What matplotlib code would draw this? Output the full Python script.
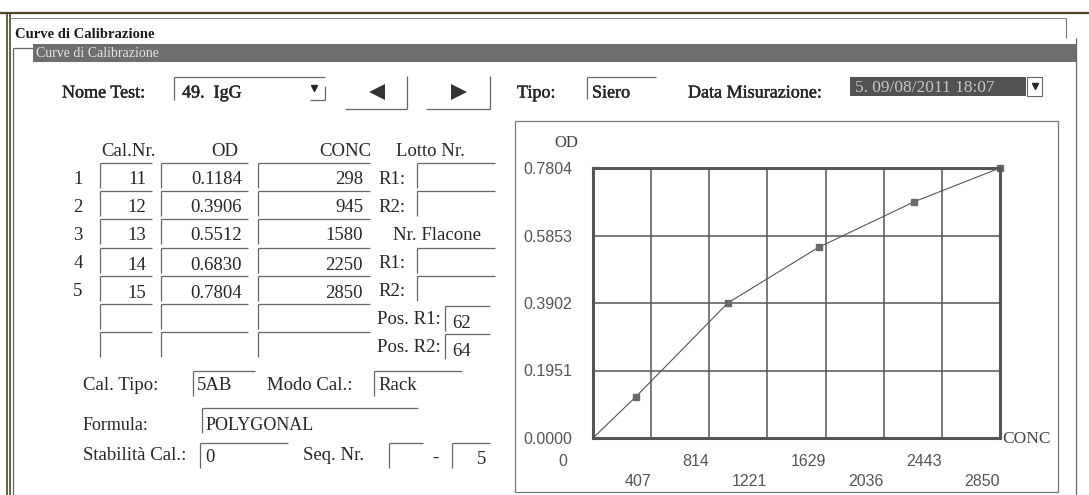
import numpy as np
import matplotlib.pyplot as plt
import matplotlib.patheffects as pe
from matplotlib.patches import Rectangle
from matplotlib.transforms import offset_copy

# calibration points (row, Cal.Nr., OD, CONC)
cal_rows = ['1', '2', '3', '4', '5']
cal_nr = [11, 12, 13, 14, 15]
od = [0.1184, 0.3906, 0.5512, 0.6830, 0.7804]
conc = [298, 945, 1580, 2250, 2850]

# ticks of the curve panel
conc_ticks = [0, 407, 814, 1221, 1629, 2036, 2443, 2850]
conc_tick_labels = ['0', '407', '814', '1221', '1629', '2036', '2443', '2850']
od_ticks = [0.0, 0.1951, 0.3902, 0.5853, 0.7804]
od_tick_labels = ['0.0000', '0.1951', '0.3902', '0.5853', '0.7804']

# form fields
test_name = '49.  IgG'
tipo = 'Siero'
data_mis = '5. 09/08/2011 18:07'
pos_r1, pos_r2 = '62', '64'
cal_tipo, modo_cal = '5AB', 'Rack'
formula = 'POLYGONAL'
stabilita, seq_nr = '0', '5'

W, H = 1089, 495
fig = plt.figure(figsize=(W / 100, H / 100), dpi=100)
fig.patch.set_facecolor('white')

# background axes in pixel units for the dialog
bg = fig.add_axes([0, 0, 1, 1])
bg.set_xlim(0, W)
bg.set_ylim(H, 0)
bg.axis('off')

ink = '#262626'
edge = '#666666'
serif = 'Liberation Serif'
sans = 'Liberation Sans'
# top row captions are a touch heavier
heavy = [pe.withStroke(linewidth=0.3, foreground='#1a1a1a')]


def hline(y, x0, x1, c=edge, lw=0.9):
    bg.plot([x0, x1], [y, y], color=c, lw=lw, solid_capstyle='butt')


def vline(x, y0, y1, c=edge, lw=0.9):
    bg.plot([x, x], [y0, y1], color=c, lw=lw, solid_capstyle='butt')


def label(x, y, s, size=13.5, ha='left', **kw):
    # y is the visual middle of the capitals
    kw.setdefault('color', ink)
    bg.text(x, y + 3, s, fontsize=size, family=serif, ha=ha, va='center', **kw)


def field(x0, x1, y):
    # sunken edit box: only top and left edges show
    hline(y - 14, x0, x1)
    vline(x0, y - 14, y + 11)


# window frame
hline(13, 0, W, c='#4f4526', lw=1.6)
vline(7, 13, H, c='#4f4526', lw=1.2)
vline(10, 13, H, c='#4f4526', lw=1.2)
hline(18, 10, 1066, c='#888888', lw=0.7)
vline(1066, 18, 38, c='#777777', lw=0.8)
bg.text(15, 34, 'Curve di Calibrazione', fontsize=10.5, family=serif,
        weight='bold', color='#1a1a1a', va='center')

# group box with dark caption band
hline(48, 13, 33)
vline(13, 48, H)
vline(1076, 38, H)
bg.add_patch(Rectangle((33, 44), 1076 - 33, 18, color='#6e6e6e', lw=0))
bg.text(36, 53.5, 'Curve di Calibrazione', fontsize=10, family=serif,
        color='#e6e6e6', va='center')

# top row: test selector, arrows, type and date
label(62, 90, 'Nome Test:', size=13, path_effects=heavy)
hline(77, 174, 325)
vline(174, 77, 100)
vline(325, 86, 100)
hline(100, 310, 325)
label(182, 90, test_name, size=13, path_effects=heavy)
bg.plot([314], [88], marker='v', ms=4, color=ink)

for x0, x1, mk in [(345, 407, '<'), (426, 490, '>')]:
    hline(109, x0, x1)
    vline(x1, 76, 109)
    bg.plot([(x0 + x1) / 2 + 1], [92], marker=mk, ms=11, color='#333333', mew=0)

label(517, 90, 'Tipo:', size=13, path_effects=heavy)
hline(77, 587, 656)
vline(587, 77, 99)
label(592, 90, tipo, size=13, path_effects=heavy)
label(688, 90, 'Data Misurazione:', size=13, path_effects=heavy)
bg.add_patch(Rectangle((850, 77), 176, 19, color='#525252', lw=0))
bg.text(855, 88, data_mis, fontsize=12.5, family=serif, color='#c8c8c8',
        va='center')
bg.add_patch(Rectangle((1027, 77), 15, 19, facecolor='white', edgecolor=edge, lw=0.8))
bg.plot([1034.5], [86], marker='v', ms=4, color=ink)

# calibration table
rows_y = [177, 205, 233, 262, 290, 318, 346]
label(128, 149, 'Cal.Nr.', ha='center')
label(225, 149, 'OD', ha='center')
label(371, 149, 'CONC', ha='right')
label(430, 149, 'Lotto Nr.', ha='center')

for i, y in enumerate(rows_y):
    field(100, 152, y)
    field(161, 248, y)
    field(258, 370, y)
    if i < len(cal_nr):
        label(78, y - 1, cal_rows[i], ha='center')
        label(146, y, str(cal_nr[i]), ha='right')
        label(242, y, '%.4f' % od[i], ha='right')
        label(363, y, str(conc[i]), ha='right')

for y, txt in [(rows_y[0], 'R1:'), (rows_y[1], 'R2:'), (rows_y[3], 'R1:'), (rows_y[4], 'R2:')]:
    label(378, y - 1, txt)
    field(417, 495, y)
label(393, rows_y[2], 'Nr. Flacone')
for y, txt, val in [(rows_y[5], 'Pos. R1:', pos_r1), (rows_y[6], 'Pos. R2:', pos_r2)]:
    label(377, y - 1, txt)
    field(445, 490, y + 2)
    label(452, y + 2, val)

# calibration settings
label(83, 383, 'Cal. Tipo:')
field(193, 255, 385)
label(197, 383, cal_tipo)
label(267, 383, 'Modo Cal.:')
field(374, 462, 385)
label(378, 383, modo_cal)

label(83, 422, 'Formula:', size=13)
field(202, 418, 422)
label(206, 422, formula, size=13)

label(83, 453, 'Stabilità Cal.:')
field(200, 288, 457)
label(205, 455, stabilita)
label(303, 453, 'Seq. Nr.')
field(389, 423, 457)
label(432, 455, '-')
field(452, 490, 457)
label(486, 456, seq_nr, ha='right')

# chart panel
bg.add_patch(Rectangle((515, 121), 1058 - 515, 492 - 121, fill=False,
                       edgecolor='#777777', lw=0.9))
bg.text(566, 143, 'OD', fontsize=12, family=serif, color='#444444',
        ha='center', va='center')

# calibration curve
ax = fig.add_axes([593 / W, 1 - 438 / H, 407 / W, 270 / H])
ax.plot([0] + conc, [0] + od, color='#555555', lw=0.8)
ax.plot(conc, od, ls='none', marker='s', ms=4.5, color='#6a6a6a', clip_on=False)
ax.set_xlim(conc_ticks[0], conc_ticks[-1])
ax.set_ylim(od_ticks[0], od_ticks[-1])
ax.set_xticks(conc_ticks)
ax.set_xticklabels([])
ax.set_yticks(od_ticks, od_tick_labels)
ax.tick_params(length=0)
ax.tick_params(axis='y', pad=15, labelsize=11.5, labelcolor='#555555')
for lab in ax.get_yticklabels():
    lab.set_family(sans)
ax.grid(True, color='#555555', lw=1.1)
for s in ax.spines.values():
    s.set_linewidth(2.2)
    s.set_color('#555555')

# staggered x labels, right aligned on their grid lines
for i, (v, s) in enumerate(zip(conc_ticks, conc_tick_labels)):
    dy = -23 if i % 2 == 0 else -43
    dx = -26 if v == 0 else 0
    tr = offset_copy(ax.get_xaxis_transform(), fig=fig, x=dx, y=dy, units='dots')
    ax.text(v, 0, s, transform=tr, ha='right', va='center', fontsize=11.5,
            family=sans, color='#555555')

ax.text(1, 0, 'CONC', transform=offset_copy(ax.transAxes, fig=fig, x=2, y=-1, units='dots'),
        ha='left', va='center', fontsize=12.5, family=serif, color='#444444')

fig.savefig('out.png', dpi=100)
